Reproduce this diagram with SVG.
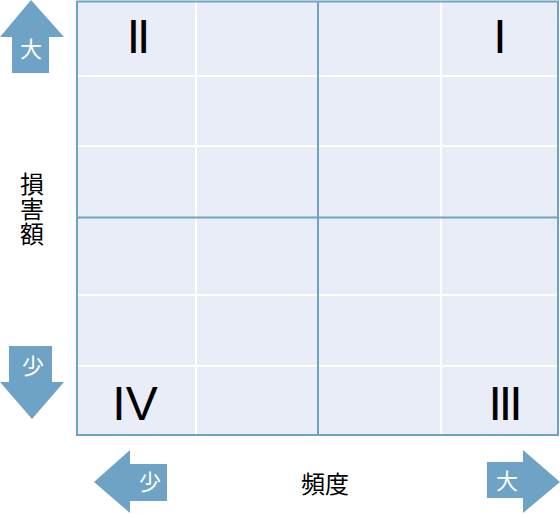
<svg xmlns="http://www.w3.org/2000/svg" width="560" height="514" viewBox="0 0 560 514">
<style>
.arrow{fill:#6fa3c6}
.al{fill:#ffffff;font-family:"Noto Sans CJK JP",sans-serif;font-size:22px;text-anchor:middle}
.rn{fill:#000;font-family:"Liberation Sans",Arial,sans-serif;font-size:48px;text-anchor:middle}
.tight{letter-spacing:-3px}
.lbl{fill:#000;font-family:"Noto Sans CJK JP",sans-serif;font-size:24px;text-anchor:middle}
.wl{stroke:#ffffff;stroke-width:2}
.bl{stroke:#6fa3c6;stroke-width:2}
</style>
<rect width="560" height="514" fill="#ffffff"/>
<g id="grid">
<rect x="77" y="1.5" width="481" height="433.5" fill="#e9edf7"/>
<line class="wl" x1="196" y1="2" x2="196" y2="434"/>
<line class="wl" x1="441" y1="2" x2="441" y2="434"/>
<line class="wl" x1="78" y1="76" x2="557" y2="76"/>
<line class="wl" x1="78" y1="146" x2="557" y2="146"/>
<line class="wl" x1="78" y1="295" x2="557" y2="295"/>
<line class="wl" x1="78" y1="366" x2="557" y2="366"/>
<line class="bl" x1="318" y1="2" x2="318" y2="434"/>
<line class="bl" x1="78" y1="217.5" x2="557" y2="217.5"/>
<rect x="77" y="1.5" width="481" height="433.5" fill="none" stroke="#6fa3c6" stroke-width="2"/>
</g>
<g id="quadrants">
<text id="q2" class="rn tight" x="137" y="53">II</text>
<text id="q1" class="rn" x="500" y="53">I</text>
<text id="q4" class="rn" x="135" y="420">IV</text>
<text id="q3" class="rn tight" x="504" y="420">III</text>
</g>
<g id="arrow-up">
<polygon class="arrow" points="31,0 64,37 49,37 49,73 12,73 12,37 0,37"/>
<text class="al" x="31" y="57">大</text>
</g>
<g id="arrow-down">
<polygon class="arrow" points="9,346 52,346 52,382 64,382 32,419 0,382 9,382"/>
<text class="al" x="33" y="374">少</text>
</g>
<g id="arrow-left">
<polygon class="arrow" points="94,482 130,450 130,464 167,464 167,501 130,501 130,513"/>
<text class="al" x="150" y="490">少</text>
</g>
<g id="arrow-right">
<polygon class="arrow" points="487,462 523,462 523,450 560,482 523,513 523,498 487,498"/>
<text class="al" x="507" y="489">大</text>
</g>
<g id="axis-labels">
<text class="lbl" x="32" y="172" style="writing-mode:vertical-rl;text-anchor:start;letter-spacing:1px">損害額</text>
<text class="lbl" x="325" y="493">頻度</text>
</g>
</svg>
